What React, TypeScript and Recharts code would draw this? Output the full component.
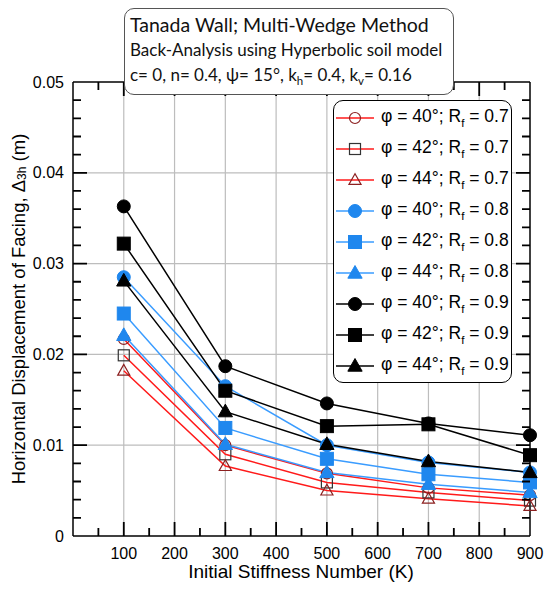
import { LineChart, Line, XAxis, YAxis, CartesianGrid, Legend } from "recharts";

// K values on the x axis
const stiffness = [100, 300, 500, 700, 900];

// horizontal displacement of facing (m)
const phi40Rf07 = [0.0217, 0.01, 0.0069, 0.0053, 0.0045];
const phi42Rf07 = [0.0199, 0.009, 0.0059, 0.0048, 0.0039];
const phi44Rf07 = [0.0182, 0.0077, 0.005, 0.0041, 0.0033];
const phi40Rf08 = [0.0285, 0.0165, 0.01, 0.0081, 0.007];
const phi42Rf08 = [0.0245, 0.0119, 0.0085, 0.0068, 0.0059];
const phi44Rf08 = [0.0221, 0.0101, 0.007, 0.0057, 0.0048];
const phi40Rf09 = [0.0363, 0.0187, 0.0146, 0.0124, 0.0111];
const phi42Rf09 = [0.0322, 0.016, 0.0121, 0.0123, 0.0089];
const phi44Rf09 = [0.0281, 0.0137, 0.0101, 0.0082, 0.007];

const xLabels = [100, 200, 300, 400, 500, 600, 700, 800, 900];
const xMinor = [50, 150, 250, 350, 450, 550, 650, 750, 850];
const xGrid = [100, 200, 300, 400, 500, 600, 700, 800];
const yLabels = [0, 0.01, 0.02, 0.03, 0.04, 0.05];
const yMinor = [
  0.002, 0.004, 0.006, 0.008, 0.012, 0.014, 0.016, 0.018, 0.022, 0.024, 0.026, 0.028,
  0.032, 0.034, 0.036, 0.038, 0.042, 0.044, 0.046, 0.048,
];
const yGrid = [0.01, 0.02, 0.03, 0.04];

const X_MAX = 900;
const Y_MAX = 0.05;

// plot box (px) – chart margins and axis sizes are derived from it
const W = 550;
const H = 590;
const PLOT = { left: 73, right: 530, top: 82, bottom: 536 };

const RED = "#ff1a1a";
const DARK_RED = "#8c2020";
const BLUE_LINE = "#3a9cff";
const BLUE_FILL = "#1f87ee";
const BLACK = "#000";
const FONT = "'Liberation Sans', Arial, sans-serif";

type Shape = "circle" | "square" | "triangle";

const series = [
  { key: "phi40Rf07", phi: 40, rf: "0.7", values: phi40Rf07, line: RED, shape: "circle", fill: "none", stroke: DARK_RED },
  { key: "phi42Rf07", phi: 42, rf: "0.7", values: phi42Rf07, line: RED, shape: "square", fill: "none", stroke: "#333" },
  { key: "phi44Rf07", phi: 44, rf: "0.7", values: phi44Rf07, line: RED, shape: "triangle", fill: "none", stroke: DARK_RED },
  { key: "phi40Rf08", phi: 40, rf: "0.8", values: phi40Rf08, line: BLUE_LINE, shape: "circle", fill: BLUE_FILL, stroke: BLUE_FILL },
  { key: "phi42Rf08", phi: 42, rf: "0.8", values: phi42Rf08, line: BLUE_LINE, shape: "square", fill: BLUE_FILL, stroke: BLUE_FILL },
  { key: "phi44Rf08", phi: 44, rf: "0.8", values: phi44Rf08, line: BLUE_LINE, shape: "triangle", fill: BLUE_FILL, stroke: BLUE_FILL },
  { key: "phi40Rf09", phi: 40, rf: "0.9", values: phi40Rf09, line: BLACK, shape: "circle", fill: BLACK, stroke: BLACK },
  { key: "phi42Rf09", phi: 42, rf: "0.9", values: phi42Rf09, line: BLACK, shape: "square", fill: BLACK, stroke: BLACK },
  { key: "phi44Rf09", phi: 44, rf: "0.9", values: phi44Rf09, line: BLACK, shape: "triangle", fill: BLACK, stroke: BLACK },
];

const data = stiffness.map((k, i) => {
  const row: Record<string, number> = { k };
  series.forEach((s) => (row[s.key] = s.values[i]));
  return row;
});

function Marker({ cx, cy, shape, fill, stroke, big }: { cx: number; cy: number; shape: Shape; fill: string; stroke: string; big: boolean }) {
  if (cx == null || cy == null) return null;
  const r = big ? 6.5 : 5.5;
  const sw = fill === "none" ? 1.2 : 1;
  if (shape === "circle") return <circle cx={cx} cy={cy} r={r} fill={fill} stroke={stroke} strokeWidth={sw} />;
  if (shape === "square")
    return <rect x={cx - r} y={cy - r} width={r * 2} height={r * 2} fill={fill} stroke={stroke} strokeWidth={sw} />;
  const pts = `${cx},${cy - r * 1.15} ${cx - r * 1.1},${cy + r * 0.8} ${cx + r * 1.1},${cy + r * 0.8}`;
  return <polygon points={pts} fill={fill} stroke={stroke} strokeWidth={sw} />;
}

// inward tick marks on all four sides of the frame
function TickMarks() {
  const px = (v: number) => PLOT.left + (v / X_MAX) * (PLOT.right - PLOT.left);
  const py = (v: number) => PLOT.bottom - (v / Y_MAX) * (PLOT.bottom - PLOT.top);
  const d: string[] = [];
  const xs: [number, number][] = [...xGrid.map((v) => [v, 14] as [number, number]), ...xMinor.map((v) => [v, 8] as [number, number])];
  const ys: [number, number][] = [...yGrid.map((v) => [v, 14] as [number, number]), ...yMinor.map((v) => [v, 8] as [number, number])];
  xs.forEach(([v, len]) => {
    d.push(`M${px(v)},${PLOT.bottom}v${-len}`);
    d.push(`M${px(v)},${PLOT.top}v${len}`);
  });
  ys.forEach(([v, len]) => {
    d.push(`M${PLOT.left},${py(v)}h${len}`);
    d.push(`M${PLOT.right},${py(v)}h${-len}`);
  });
  return (
    <svg width={W} height={H} style={{ position: "absolute", left: 0, top: 0, pointerEvents: "none" }}>
      <path d={d.join("")} stroke="#000" strokeWidth={1.8} fill="none" />
    </svg>
  );
}

const renderBottomTick = (p: any) => (
  <text key={`b-${p.payload.value}`} x={p.x} y={p.y + 23} textAnchor="middle" fontSize={16} fontFamily={FONT} fill="#000">
    {p.payload.value}
  </text>
);

const renderLeftTick = (p: any) => {
  const v = p.payload.value;
  return (
    <text key={`l-${v}`} x={p.x - 9} y={p.y + 5.5} textAnchor="end" fontSize={16} fontFamily={FONT} fill="#000">
      {v === 0 ? "0" : v.toFixed(2)}
    </text>
  );
};

function LegendBox({ payload }: any) {
  const shown = new Set((payload ?? []).map((p: any) => p.dataKey));
  const items = series.filter((s) => shown.size === 0 || shown.has(s.key));
  return (
    <div
      style={{
        border: "1.5px solid #000",
        borderRadius: 10,
        background: "#fff",
        width: 179,
        padding: "1px 0",
        boxSizing: "border-box",
      }}
    >
      {items.map((s) => (
        <div key={s.key} style={{ display: "flex", alignItems: "center", height: 31 }}>
          <svg width={44} height={20} style={{ marginLeft: 2 }}>
            <line x1={0} x2={38} y1={10} y2={10} stroke={s.line} strokeWidth={1.5} />
            <Marker cx={19} cy={10} shape={s.shape as Shape} fill={s.fill} stroke={s.stroke} big={s.fill !== "none"} />
          </svg>
          <span style={{ fontFamily: FONT, fontSize: 17.5, color: "#000", marginLeft: 1, whiteSpace: "nowrap" }}>
            φ = {s.phi}°; R<sub style={{ fontSize: 11.5 }}>f</sub> = {s.rf}
          </span>
        </div>
      ))}
    </div>
  );
}

export default function App() {
  return (
    <div style={{ position: "absolute", left: 0, top: 0, width: W, height: H, background: "#fff" }}>
      <LineChart
        width={W}
        height={H}
        data={data}
        margin={{ top: PLOT.top - 30, right: 0, bottom: 0, left: 0 }}
      >
        <CartesianGrid stroke="#bdbdbd" strokeWidth={1.2} horizontalValues={yGrid} verticalValues={xGrid} />
        <XAxis
          dataKey="k"
          type="number"
          domain={[0, X_MAX]}
          ticks={xLabels}
          interval={0}
          height={H - PLOT.bottom}
          tickSize={0}
          tickMargin={0}
          stroke="#000"
          strokeWidth={1.5}
          tick={renderBottomTick}
          label={{
            content: () => (
              <text x={301} y={578} textAnchor="middle" fontSize={19} fontFamily={FONT} fill="#000">
                Initial Stiffness Number (K)
              </text>
            ),
          }}
        />
        <XAxis
          xAxisId="top"
          orientation="top"
          dataKey="k"
          type="number"
          domain={[0, X_MAX]}
          height={30}
          tick={false}
          tickLine={false}
          stroke="#000"
          strokeWidth={1.5}
        />
        <YAxis
          type="number"
          domain={[0, Y_MAX]}
          ticks={yLabels}
          interval={0}
          width={PLOT.left}
          tickSize={0}
          tickMargin={0}
          stroke="#000"
          strokeWidth={1.5}
          tick={renderLeftTick}
          label={{
            content: () => (
              <text
                x={18}
                y={309}
                transform="rotate(-90 18 309)"
                textAnchor="middle"
                dominantBaseline="central"
                fontSize={18.5}
                fontFamily={FONT}
                fill="#000"
              >
                Horizontal Displacement of Facing, Δ
                <tspan fontSize={12} dy={4}>3h</tspan>
                <tspan dy={-4}> (m)</tspan>
              </text>
            ),
          }}
        />
        <YAxis
          yAxisId="right"
          orientation="right"
          type="number"
          domain={[0, Y_MAX]}
          width={W - PLOT.right}
          tick={false}
          tickLine={false}
          stroke="#000"
          strokeWidth={1.5}
        />
        <Legend
          layout="vertical"
          align="center"
          verticalAlign="middle"
          content={<LegendBox />}
          wrapperStyle={{ left: 333, top: 100, width: 180, zIndex: 3 }}
        />
        {series.map((s) => (
          <Line
            key={s.key}
            dataKey={s.key}
            name={`φ = ${s.phi}°; Rf = ${s.rf}`}
            stroke={s.line}
            strokeWidth={1.5}
            isAnimationActive={false}
            dot={(p: any) => (
              <Marker
                key={`${s.key}-${p.index}`}
                cx={p.cx}
                cy={p.cy}
                shape={s.shape as Shape}
                fill={s.fill}
                stroke={s.stroke}
                big={s.fill !== "none"}
              />
            )}
            activeDot={false}
          />
        ))}
      </LineChart>
      <TickMarks />
      <div
        style={{
          position: "absolute",
          left: 124,
          top: 8,
          width: 330,
          height: 87,
          border: "1.5px solid #555",
          borderRadius: 10,
          background: "#fff",
          boxSizing: "border-box",
          padding: "3px 0 0 5px",
          fontFamily: "Lato, 'Noto Sans', sans-serif",
          color: "#111",
          lineHeight: "25px",
          zIndex: 4,
        }}
      >
        <div style={{ fontSize: 19.5 }}>Tanada Wall; Multi-Wedge Method</div>
        <div style={{ fontSize: 17 }}>Back-Analysis using Hyperbolic soil model</div>
        <div style={{ fontSize: 17 }}>
          c= 0, n= 0.4, ψ= 15°, k<sub style={{ fontSize: 11.5 }}>h</sub>= 0.4, k<sub style={{ fontSize: 11.5 }}>v</sub>= 0.16
        </div>
      </div>
    </div>
  );
}
